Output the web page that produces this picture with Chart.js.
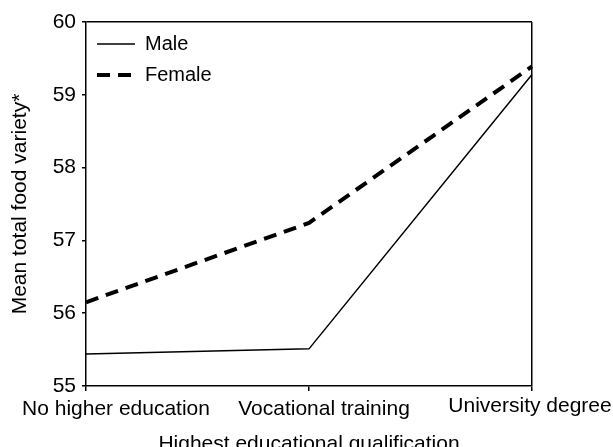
<!DOCTYPE html>
<html>
<head>
<meta charset="utf-8">
<title>Food variety by education</title>
<script src="https://cdn.jsdelivr.net/npm/chart.js@4/dist/chart.umd.min.js"></script>
<style>
  body{ margin:0; background:#fff; }
  #wrap{ width:613px; height:447px; }
</style>
</head>
<body>
<div id="wrap"><canvas id="foodChart" width="613" height="447"></canvas></div>
<script>
/* =========================
DATA
========================= */

const categories = [
  "No higher education",
  "Vocational training",
  "University degree"
];

const maleValues = [55.44, 55.51, 59.28];

const femaleValues = [56.15, 57.24, 59.39];

const yTicks = [55, 56, 57, 58, 59, 60];

/* =========================
STYLE
========================= */

const FONT = "'Liberation Sans', Arial, sans-serif";
const INK = "#000";

// per label nudge, the source labels are not centred on the ticks
const labelShift = [30, 15, -2];
const labelDrop = [29, 29, 26];

/* =========================
PLUGIN : x labels
========================= */

const xLabels = {
  id: "xLabels",
  afterDraw(chart){
    const ctx = chart.ctx;
    const x = chart.scales.x;
    ctx.save();
    ctx.font = "21px " + FONT;
    ctx.fillStyle = INK;
    ctx.textAlign = "center";
    ctx.textBaseline = "alphabetic";
    categories.forEach((c, i) => {
      ctx.fillText(
        c,
        x.getPixelForValue(i) + labelShift[i],
        x.top + labelDrop[i]
      );
    });
    ctx.restore();
  }
};

/* =========================
CHART
========================= */

const ctx = document.getElementById("foodChart");

new Chart(ctx, {
  type: "line",
  data: {
    labels: categories,
    datasets: [
      {
        label: "Male",
        data: maleValues,
        borderColor: INK,
        borderWidth: 1.5,
        pointRadius: 0,
        tension: 0,
        fill: false
      },
      {
        label: "Female",
        data: femaleValues,
        borderColor: INK,
        borderWidth: 4,
        borderDash: [13, 8],
        pointRadius: 0,
        tension: 0,
        fill: false
      }
    ]
  },
  options: {
    responsive: false,
    animation: false,
    layout: {
      padding: { left: 0, top: 22, right: 81, bottom: 0 }
    },
    plugins: {
      tooltip: { enabled: false },
      legend: {
        position: "chartArea",
        align: "start",
        // empty title only pushes the rows down
        title: {
          display: true,
          text: "",
          font: { family: FONT, size: 20, lineHeight: 1.15 },
          padding: 0
        },
        labels: {
          usePointStyle: true,
          pointStyle: "line",
          pointStyleWidth: 38,
          color: INK,
          padding: 11,
          font: { family: FONT, size: 20 },
          generateLabels(chart){
            const items =
            Chart.defaults.plugins.legend.labels.generateLabels(chart);
            items.forEach(it => {
              const ds = chart.data.datasets[it.datasetIndex];
              it.lineDash = ds.borderDash || [];
              it.lineWidth = ds.borderWidth;
            });
            return items;
          }
        }
      }
    },
    scales: {
      x: {
        type: "category",
        offset: false,
        border: { display: true, color: INK, width: 1.5 },
        grid: {
          color: c => c.index === categories.length - 1 ? INK : "rgba(0,0,0,0)",
          lineWidth: 1.5,
          tickColor: INK,
          tickLength: 5,
          drawTicks: true
        },
        ticks: {
          callback: () => "",
          maxRotation: 0,
          autoSkip: false
        },
        title: {
          display: true,
          text: "Highest educational qualification",
          color: INK,
          font: { family: FONT, size: 21 },
          padding: { top: 0, bottom: -10 }
        },
        afterFit(scale){
          scale.height = 61;
          scale.paddingLeft = 0;
          scale.paddingRight = 0;
        }
      },
      y: {
        min: 55,
        max: 60,
        border: { display: true, color: INK, width: 1.5 },
        grid: {
          color: c => c.tick && c.tick.value === 60 ? INK : "rgba(0,0,0,0)",
          lineWidth: 1.5,
          tickColor: INK,
          tickLength: 4
        },
        afterBuildTicks(scale){
          scale.ticks = yTicks.map(v => ({ value: v }));
        },
        ticks: {
          color: INK,
          padding: 6,
          font: { family: FONT, size: 21 }
        },
        title: {
          display: true,
          text: "Mean total food variety*",
          color: INK,
          font: { family: FONT, size: 21 },
          padding: { top: 8, bottom: 0 }
        },
        afterFit(scale){
          scale.width = 86;
        }
      }
    }
  },
  plugins: [xLabels]
});
</script>
</body>
</html>
